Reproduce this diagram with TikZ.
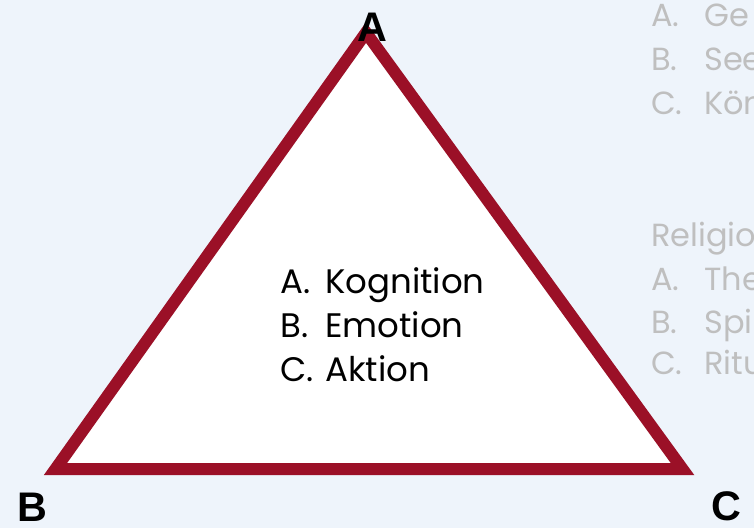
\documentclass[tikz,border=0pt]{standalone}
\usepackage{fontspec}
\setmainfont{Poppins}
\newfontfamily\labfont{Liberation Sans}
\definecolor{bgblue}{HTML}{EEF4FB}
\definecolor{trired}{HTML}{9B1027}
\definecolor{greytext}{HTML}{BFBFBF}
\begin{document}
\begin{tikzpicture}[x=0.75pt,y=-0.75pt,
  tri/.style={draw=trired,fill=white,line width=9pt,line join=miter},
  maintext/.style={anchor=base west,inner sep=0pt,font=\fontsize{25.5pt}{30pt}\selectfont,text=black},
  sidetext/.style={anchor=base west,inner sep=0pt,font=\fontsize{24pt}{28pt}\selectfont,text=greytext},
  corner/.style={inner sep=0pt,font=\labfont\bfseries\fontsize{31pt}{35pt}\selectfont,text=black}]
\useasboundingbox (0,0) rectangle (754,528);
\fill[bgblue] (0,0) rectangle (754,528);
\clip (0,0) rectangle (754,528);
\coordinate (vA) at (366,32.6);
\coordinate (vB) at (55.5,469);
\coordinate (vC) at (682.5,469);
\draw[tri] (vA) -- (vB) -- (vC) -- cycle;
\node[corner,anchor=base] (labA) at (372,42) {A};
\node[corner,anchor=base west] (labB) at (17,521) {B};
\node[corner,anchor=base west] (labC) at (711,520) {C};
\node[maintext] (t1) at (280,293) {\makebox[33.75pt][l]{A.}Kognition};
\node[maintext] (t2) at (280,337) {\makebox[33.75pt][l]{B.}Emotion};
\node[maintext] (t3) at (280,381) {\makebox[33.75pt][l]{C.}Aktion};
\node[sidetext] (s1) at (651,27) {\makebox[39.75pt][l]{A.}Ge};
\node[sidetext] (s2) at (651,71) {\makebox[39.75pt][l]{B.}See};
\node[sidetext] (s3) at (651,114) {\makebox[39.75pt][l]{C.}Kön};
\node[sidetext] (s4) at (651,246) {Religio};
\node[sidetext] (s5) at (651,290) {\makebox[39.75pt][l]{A.}The};
\node[sidetext] (s6) at (651,333) {\makebox[39.75pt][l]{B.}Spir};
\node[sidetext] (s7) at (651,374) {\makebox[39.75pt][l]{C.}Ritu};
\end{tikzpicture}
\end{document}
